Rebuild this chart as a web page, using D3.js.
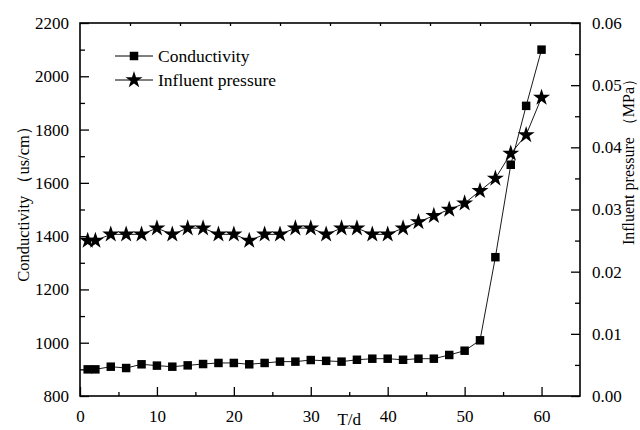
<!DOCTYPE html>
<html>
<head>
<meta charset="utf-8">
<script src="https://cdn.jsdelivr.net/npm/d3@7"></script>
<style>
  body { margin: 0; background: #fff; }
  svg text { font-family: "Liberation Serif", "Times New Roman", serif; fill: #000; }
</style>
</head>
<body>
<div id="chart"></div>
<script>
// ------------------------------------------------------------- Data
var days = [1, 2, 4, 6, 8, 10, 12, 14, 16, 18, 20, 22, 24, 26, 28, 30,
            32, 34, 36, 38, 40, 42, 44, 46, 48, 50, 52, 54, 56, 58, 60];
var conductivity = [900, 900, 910, 905, 919, 914, 910, 915, 920, 924, 924, 919, 924, 929, 929, 935,
                    932, 929, 936, 940, 940, 936, 940, 940, 954, 970, 1009, 1321, 1668, 1889, 2100];
var pressure = [0.025, 0.025, 0.026, 0.026, 0.026, 0.027, 0.026, 0.027, 0.027, 0.026, 0.026, 0.025, 0.026, 0.026, 0.027, 0.027,
                0.026, 0.027, 0.027, 0.026, 0.026, 0.027, 0.028, 0.029, 0.030, 0.031, 0.033, 0.035, 0.039, 0.042, 0.048];
var xTicks = [0, 10, 20, 30, 40, 50, 60];
var leftTicks = [800, 1000, 1200, 1400, 1600, 1800, 2000, 2200];
var rightTicks = [0, 0.01, 0.02, 0.03, 0.04, 0.05, 0.06];
var seriesNames = ['Conductivity', 'Influent pressure'];
// ------------------------------------------------------------ /Data

var margin = {top: 23, right: 60, bottom: 34, left: 80},
    width = 640 - margin.left - margin.right,
    height = 430 - margin.top - margin.bottom;

var x = d3.scaleLinear().domain([0, 65]).range([0, width]);
var yL = d3.scaleLinear().domain([800, 2200]).range([height, 0]);
var yR = d3.scaleLinear().domain([0, 0.06]).range([height, 0]);

var svg = d3.select('#chart').append('svg')
    .attr('width', 640)
    .attr('height', 430)
  .append('g')
    .attr('transform', 'translate(' + margin.left + ',' + margin.top + ')');

function styleAxis(g, fs) {
  g.select('.domain').remove();
  g.selectAll('line').attr('stroke', '#000').attr('stroke-width', 1.3);
  g.selectAll('text').style('font-size', fs + 'px');
}

// minor ticks
svg.append('g')
    .attr('transform', 'translate(0,' + height + ')')
    .call(d3.axisBottom(x).tickValues(d3.range(5, 65, 10)).tickSize(-4).tickFormat(''))
    .call(styleAxis, 16);
svg.append('g')
    .call(d3.axisLeft(yL).tickValues(d3.range(900, 2200, 200)).tickSize(-5).tickFormat(''))
    .call(styleAxis, 16);
svg.append('g')
    .attr('transform', 'translate(' + width + ',0)')
    .call(d3.axisRight(yR).tickValues([0.005, 0.015, 0.025, 0.035, 0.045, 0.055]).tickSize(-5).tickFormat(''))
    .call(styleAxis, 16);
svg.append('g')
    .call(d3.axisTop(x).tickValues(d3.range(6.5, 65, 6.5)).tickSize(-3).tickFormat(''))
    .call(styleAxis, 16);

// major ticks
svg.append('g')
    .attr('transform', 'translate(0,' + height + ')')
    .call(d3.axisBottom(x).tickValues(xTicks).tickSize(-9).tickPadding(14).tickFormat(d3.format('d')))
    .call(styleAxis, 17);
svg.append('g')
    .call(d3.axisLeft(yL).tickValues(leftTicks).tickSize(-9).tickPadding(11).tickFormat(d3.format('d')))
    .call(styleAxis, 17);
svg.append('g')
    .attr('transform', 'translate(' + width + ',0)')
    .call(d3.axisRight(yR).tickValues(rightTicks).tickSize(-9).tickPadding(12).tickFormat(d3.format('.2f')))
    .call(styleAxis, 17);

// frame
svg.append('rect')
    .attr('width', width)
    .attr('height', height)
    .attr('fill', 'none')
    .attr('stroke', '#000')
    .attr('stroke-width', 1.6);

// lines
var condData = days.map(function(d, i) { return {t: d, v: conductivity[i]}; });
var presData = days.map(function(d, i) { return {t: d, v: pressure[i]}; });

svg.append('path')
    .datum(condData)
    .attr('fill', 'none')
    .attr('stroke', '#000')
    .attr('stroke-width', 0.9)
    .attr('d', d3.line().x(function(d) { return x(d.t); }).y(function(d) { return yL(d.v); }));

svg.append('path')
    .datum(presData)
    .attr('fill', 'none')
    .attr('stroke', '#000')
    .attr('stroke-width', 0.9)
    .attr('d', d3.line().x(function(d) { return x(d.t); }).y(function(d) { return yR(d.v); }));

var square = d3.symbol().type(d3.symbolSquare).size(72);
var star = d3.symbol().type(d3.symbolStar).size(90);

svg.append('g').selectAll('path')
    .data(condData)
  .enter().append('path')
    .attr('d', square)
    .attr('transform', function(d) { return 'translate(' + x(d.t) + ',' + yL(d.v) + ')'; })
    .attr('fill', '#000');

svg.append('g').selectAll('path')
    .data(presData)
  .enter().append('path')
    .attr('d', star)
    .attr('transform', function(d) { return 'translate(' + x(d.t) + ',' + yR(d.v) + ')'; })
    .attr('fill', '#000');

// legend
var legend = svg.append('g').attr('transform', 'translate(35,33)');
var symbols = [square, star];
seriesNames.forEach(function(name, i) {
  var row = legend.append('g').attr('transform', 'translate(0,' + (i * 24) + ')');
  row.append('line')
      .attr('x1', 0).attr('x2', 38)
      .attr('stroke', '#000').attr('stroke-width', 1);
  row.append('path')
      .attr('d', symbols[i])
      .attr('transform', 'translate(19,0)')
      .attr('fill', '#000');
  row.append('text')
      .attr('x', 43)
      .attr('dy', '0.35em')
      .style('font-size', '17.5px')
      .text(name);
});

// axis titles
svg.append('text')
    .attr('x', x(35))
    .attr('y', height + 29)
    .attr('text-anchor', 'middle')
    .style('font-size', '17px')
    .text('T/d');

svg.append('text')
    .attr('transform', 'translate(' + (29 - margin.left) + ',' + (200 - margin.top) + ') rotate(-90)')
    .attr('text-anchor', 'middle')
    .style('font-size', '16.5px')
    .text('Conductivity （us/cm）');

svg.append('text')
    .attr('transform', 'translate(' + (634 - margin.left) + ',' + (158 - margin.top) + ') rotate(-90)')
    .attr('text-anchor', 'middle')
    .style('font-size', '16px')
    .text('Influent pressure （MPa）');
</script>
</body>
</html>
